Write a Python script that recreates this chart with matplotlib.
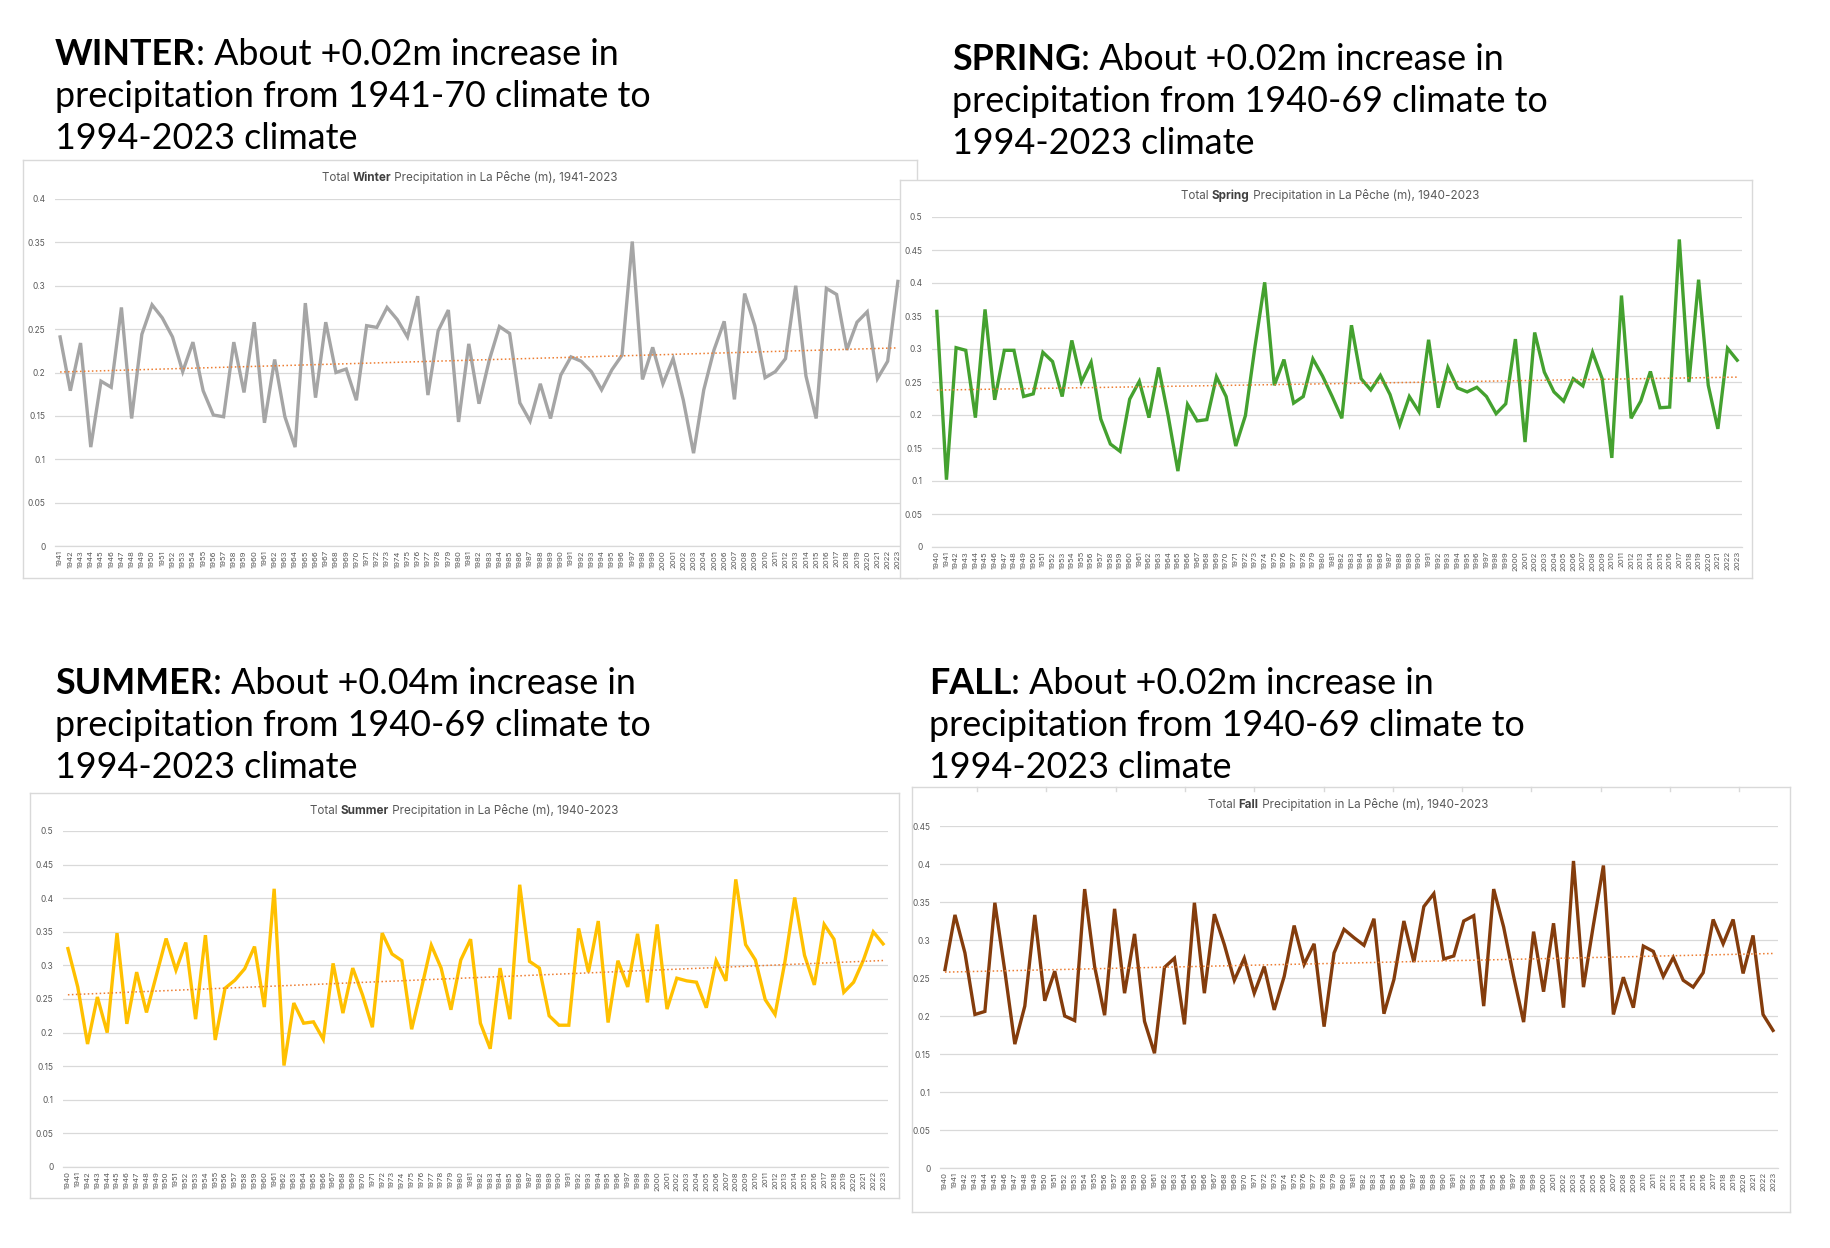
import numpy as np
import matplotlib
matplotlib.use('Agg')
import matplotlib.pyplot as plt

W, H = 1830, 1248  # output size in pixels

# Data (m)
winter_years = list(range(1941, 2024))
winter_vals = [0.241, 0.179, 0.234, 0.114, 0.190, 0.183, 0.275, 0.147, 0.244, 0.278,
               0.263, 0.241, 0.201, 0.235, 0.179, 0.151, 0.149, 0.235, 0.177, 0.258,
               0.142, 0.215, 0.149, 0.114, 0.280, 0.171, 0.258, 0.200, 0.204, 0.168,
               0.254, 0.252, 0.275, 0.261, 0.241, 0.288, 0.174, 0.248, 0.272, 0.143,
               0.233, 0.164, 0.214, 0.253, 0.245, 0.165, 0.144, 0.187, 0.147, 0.197,
               0.218, 0.213, 0.201, 0.180, 0.203, 0.220, 0.351, 0.192, 0.229, 0.187,
               0.216, 0.168, 0.107, 0.180, 0.226, 0.259, 0.169, 0.291, 0.254, 0.194,
               0.201, 0.216, 0.300, 0.196, 0.147, 0.297, 0.290, 0.226, 0.258, 0.270,
               0.193, 0.213, 0.305]

spring_years = list(range(1940, 2024))
spring_vals = [0.357, 0.102, 0.302, 0.298, 0.196, 0.360, 0.223, 0.298, 0.298, 0.228,
               0.232, 0.295, 0.281, 0.228, 0.313, 0.250, 0.280, 0.194, 0.156, 0.145,
               0.224, 0.251, 0.196, 0.272, 0.198, 0.115, 0.216, 0.191, 0.193, 0.258,
               0.228, 0.153, 0.199, 0.304, 0.401, 0.245, 0.284, 0.218, 0.228, 0.285,
               0.259, 0.228, 0.195, 0.336, 0.255, 0.238, 0.260, 0.231, 0.185, 0.228,
               0.205, 0.314, 0.211, 0.272, 0.241, 0.235, 0.242, 0.228, 0.202, 0.217,
               0.315, 0.159, 0.325, 0.265, 0.235, 0.221, 0.255, 0.244, 0.295, 0.255,
               0.135, 0.381, 0.195, 0.221, 0.266, 0.211, 0.212, 0.466, 0.250, 0.405,
               0.245, 0.179, 0.301, 0.283]

summer_years = list(range(1940, 2024))
summer_vals = [0.325, 0.268, 0.183, 0.253, 0.200, 0.348, 0.213, 0.290, 0.230, 0.285,
               0.340, 0.293, 0.334, 0.220, 0.345, 0.189, 0.266, 0.278, 0.295, 0.328,
               0.238, 0.414, 0.151, 0.244, 0.214, 0.216, 0.190, 0.303, 0.229, 0.296,
               0.256, 0.208, 0.348, 0.317, 0.307, 0.205, 0.266, 0.330, 0.296, 0.234,
               0.308, 0.339, 0.214, 0.176, 0.296, 0.220, 0.420, 0.306, 0.296, 0.225,
               0.211, 0.211, 0.355, 0.290, 0.366, 0.215, 0.307, 0.268, 0.347, 0.245,
               0.361, 0.235, 0.281, 0.277, 0.275, 0.237, 0.307, 0.277, 0.428, 0.331,
               0.308, 0.249, 0.227, 0.305, 0.401, 0.315, 0.271, 0.361, 0.339, 0.260,
               0.275, 0.308, 0.350, 0.332]

fall_years = list(range(1940, 2024))
fall_vals = [0.261, 0.333, 0.283, 0.202, 0.206, 0.349, 0.259, 0.163, 0.213, 0.333,
             0.220, 0.259, 0.200, 0.194, 0.367, 0.265, 0.201, 0.341, 0.230, 0.308,
             0.193, 0.151, 0.264, 0.276, 0.189, 0.349, 0.230, 0.334, 0.294, 0.247,
             0.276, 0.230, 0.265, 0.208, 0.252, 0.319, 0.268, 0.295, 0.186, 0.283,
             0.314, 0.303, 0.293, 0.328, 0.203, 0.248, 0.325, 0.271, 0.344, 0.361,
             0.275, 0.279, 0.325, 0.332, 0.213, 0.367, 0.317, 0.252, 0.192, 0.311,
             0.232, 0.322, 0.211, 0.404, 0.238, 0.320, 0.398, 0.202, 0.251, 0.211,
             0.292, 0.285, 0.252, 0.277, 0.247, 0.238, 0.257, 0.327, 0.295, 0.327,
             0.256, 0.306, 0.202, 0.181]

headings = {
    'winter': ('WINTER', ': About +0.02m increase in', 'precipitation from 1941-70 climate to', '1994-2023 climate'),
    'spring': ('SPRING', ': About +0.02m increase in', 'precipitation from 1940-69 climate to', '1994-2023 climate'),
    'summer': ('SUMMER', ': About +0.04m increase in', 'precipitation from 1940-69 climate to', '1994-2023 climate'),
    'fall':   ('FALL', ': About +0.02m increase in', 'precipitation from 1940-69 climate to', '1994-2023 climate'),
}

BIG_FONT = 'Lato'
SMALL_FONT = 'Inter'
GRID = '#D9D9D9'
TXT = '#595959'

fig = plt.figure(figsize=(W / 100, H / 100), dpi=100)
fig.patch.set_facecolor('white')
renderer = fig.canvas.get_renderer()


def px_rect(l, t, r, b):
    return [l / W, 1 - b / H, (r - l) / W, (b - t) / H]


def advance(s, size, weight, family):
    # width including spaces: measure "x" + s + "x" minus "xx"
    a = fig.text(0, 0, 'x' + s + 'x', fontsize=size, fontweight=weight, family=family)
    b = fig.text(0, 0, 'xx', fontsize=size, fontweight=weight, family=family)
    w = a.get_window_extent(renderer).width - b.get_window_extent(renderer).width
    a.remove()
    b.remove()
    return w


def rich_line(x_px, y_px, pieces, size, family, align='left', zorder=5):
    widths = [advance(s, size, wt, family) for s, wt, c in pieces]
    start = x_px - sum(widths) / 2 if align == 'center' else x_px
    for (s, wt, c), w in zip(pieces, widths):
        fig.text(start / W, 1 - y_px / H, s, fontsize=size, fontweight=wt, color=c,
                 family=family, va='baseline', ha='left', zorder=zorder)
        start += w


# fit big heading size so the second line spans ~598 px
probe = advance('precipitation from 1941-70 climate to', 20, 'normal', BIG_FONT)
big_size = 20 * 598 / probe


def heading(key, x_px, y_px):
    word, rest, l2, l3 = headings[key]
    rich_line(x_px, y_px, [(word, 'bold', 'black'), (rest, 'normal', 'black')], big_size, BIG_FONT)
    rich_line(x_px, y_px + 42, [(l2, 'normal', 'black')], big_size, BIG_FONT)
    rich_line(x_px, y_px + 84, [(l3, 'normal', 'black')], big_size, BIG_FONT)


def panel(box, plot, years, vals, color, season, span, ymax, title_xy, top_ticks=None):
    bg = fig.add_axes(px_rect(*box))
    bg.set_facecolor('white')
    bg.set_xticks([])
    bg.set_yticks([])
    for sp in bg.spines.values():
        sp.set_color(GRID)
        sp.set_linewidth(1.0)

    ax = fig.add_axes(px_rect(*plot))
    ax.set_facecolor('none')
    x = np.array(years)
    y = np.array(vals)
    ax.plot(x, y, color=color, lw=2.4, solid_joinstyle='miter', zorder=3)
    # linear trendline, as in the spreadsheet charts
    k, c0 = np.polyfit(x, y, 1)
    ax.plot(x, k * x + c0, color='#ED7D31', lw=1.1, ls=(0, (1, 1.6)), zorder=4)

    ax.set_xlim(years[0] - 0.5, years[-1] + 0.5)
    ax.set_ylim(0, ymax)
    ticks = np.round(np.arange(0, ymax + 1e-9, 0.05), 2)
    ax.set_yticks(ticks)
    ax.set_yticklabels([f'{t:g}' for t in ticks], fontsize=6, color=TXT, family=SMALL_FONT)
    ax.set_xticks(years)
    ax.set_xticklabels([str(v) for v in years], rotation=90, fontsize=5.6, color=TXT, family=SMALL_FONT)
    ax.tick_params(axis='both', length=0, pad=3)
    ax.tick_params(axis='y', pad=7)
    ax.grid(axis='y', color=GRID, lw=0.9)
    ax.set_axisbelow(True)
    for name, sp in ax.spines.items():
        sp.set_visible(name == 'bottom')
    ax.spines['bottom'].set_color(GRID)
    ax.spines['bottom'].set_linewidth(0.9)

    rich_line(title_xy[0], title_xy[1], [('Total ', 'normal', TXT), (season, 'bold', '#404040'),
                                          (' Precipitation in La Pêche (m), ' + span, 'normal', TXT)],
              8.4, SMALL_FONT, align='center')

    if top_ticks is not None:
        for tx in top_ticks:
            bg.plot([(tx - box[0]) / (box[2] - box[0])] * 2, [1, 1 - 4 / (box[3] - box[1])],
                    transform=bg.transAxes, color=GRID, lw=1.0, clip_on=False)


heading('winter', 55, 65)
heading('spring', 952, 70)
heading('summer', 55, 694)
heading('fall', 929, 694)

panel((23, 160, 917, 578), (55, 199, 903, 546), winter_years, winter_vals, '#A5A5A5',
      'Winter', '1941-2023', 0.4, (470, 181))
panel((900, 180, 1752, 578), (932, 217, 1742, 547), spring_years, spring_vals, '#44A12F',
      'Spring', '1940-2023', 0.5, (1330, 199))
panel((30, 793, 899, 1198), (63, 831, 888, 1167), summer_years, summer_vals, '#FFC000',
      'Summer', '1940-2023', 0.5, (464, 814))
panel((912, 787, 1790, 1212), (940, 826, 1778, 1168), fall_years, fall_vals, '#843C0C',
      'Fall', '1940-2023', 0.45, (1348, 808),
      top_ticks=[977 + 69.3 * i for i in range(12)])

fig.savefig('out.png', dpi=100, facecolor='white')
